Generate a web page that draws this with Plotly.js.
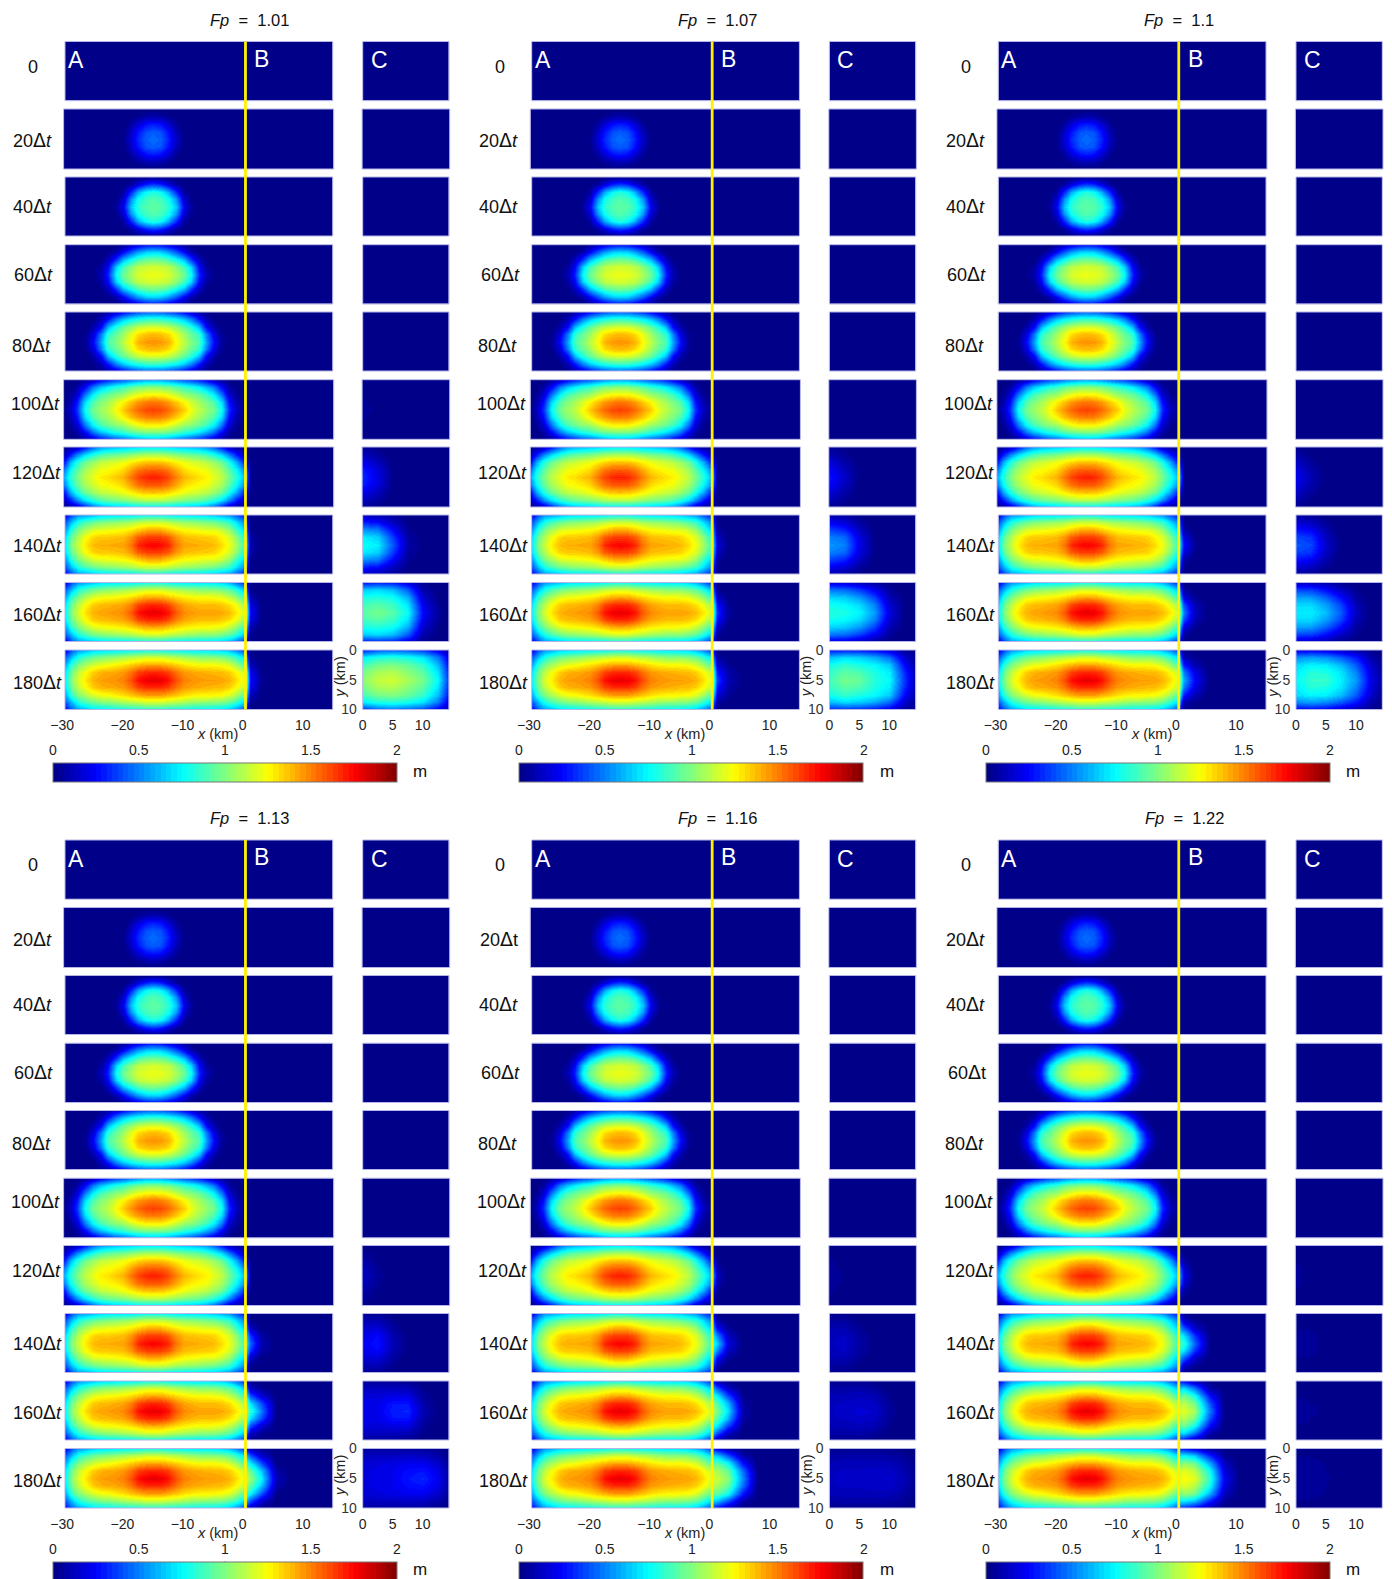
<!DOCTYPE html>
<html><head><meta charset="utf-8">
<script src="https://cdn.plot.ly/plotly-3.0.1.min.js"></script>
<style>html,body{margin:0;padding:0;background:#fff}#g{width:1392px;height:1579px}</style>
</head><body><div id="g"></div>
<script>
// ---------- sample positions (km) ----------
const xA = [-30,-29.05,-27.8,-26.55,-25.3,-24.05,-22.8,-21.55,-20.3,-19.05,-17.8,-16.55,-15.3,-14.05,-12.8,-11.55,-10.3,-9.05,-7.8,-6.55,-5.3,-4.05,-2.8,-1.55,0];
const xB = [0.75,2.5,5,7.5,10,12.5,15];
const xC = [0,2.5,5,7.5,10,12.5,14.5];
const yKm = [0,1.25,2.5,3.75,5,6.25,7.5,8.75,10];
const rowOrder = [4,3,2,1,0,1,2,3,4]; // channel is symmetric about y = 5 km: value rows go centre -> edge

// ---------- surface height in cm ----------
// segment A: rows go centre line -> channel edge; columns go outward from the source at x = -15.3 km.
// Early frames are the same on both sides; late frames list [left side],[right side].
const a0 = [[0],[0],[0],[0],[0]];
const a20 = [[46,43,32,14,2],[43,40,28,11,1],[30,27,17,5],[10,8,4,1],[0]];
const a40 = [[93,91,84,64,22,5],[91,88,78,54,15,3],[82,76,60,32,6,1],[35,30,18,6,1],[2,1]];
const a60 = [[122,120,117,108,96,76,32,10,2],[116,115,112,102,88,66,24,6,1],[98,96,90,78,62,36,12,2],[68,65,56,42,24,9,2],[28,26,20,13,5,1]];
const a80 = [[147,145,140,125,112,100,90,58,25,6],[138,137,132,120,106,95,84,50,18,4],[118,117,113,105,94,82,62,26,8,1],[85,84,80,74,64,50,28,10,2],[45,44,40,34,25,16,8,3]];
const a100 = [[163,161,155,145,135,122,112,105,97,76,34,12,2],[152,150,145,136,126,116,107,100,90,68,27,8,1],[128,127,122,115,106,102,96,88,74,48,16,4],[100,100,98,92,85,80,72,62,48,25,7,1],[60,58,54,48,42,37,30,22,12,5,1]];
const a120 = [[170,168,162,150,140,135,131,128,120,112,98,82,58],[158,157,152,142,132,128,125,122,115,107,93,74,48],[138,137,133,127,122,118,115,112,105,96,80,58,26],[110,110,108,104,100,98,95,90,82,70,52,30,11],[72,72,70,67,65,63,60,55,45,28,12,5,2]];
const a140 = [
 [[176,174,168,152,143,142,141,141,138,130,115,100,72],[176,174,168,152,143,142,141,140,138,132,122,108,85]],
 [[164,163,158,146,138,137,136,136,133,125,110,95,68],[164,163,158,146,138,137,136,135,133,127,118,103,78]],
 [[142,141,136,130,126,124,122,121,118,110,100,82,55],[142,141,136,130,126,124,122,120,120,115,105,88,65]],
 [[115,115,112,108,105,104,102,100,96,90,80,62,40],[115,115,112,108,105,104,102,100,97,92,85,70,50]],
 [[78,78,75,73,72,71,70,68,63,58,55,40,22],[78,78,75,73,72,71,70,68,65,60,55,42,28]]];
const a160 = [
 [[180,178,172,158,148,146,144,143,140,132,118,100,75],[180,178,172,158,148,145,143,143,143,142,138,130,115]],
 [[168,167,162,150,143,141,139,138,135,126,112,96,70],[168,167,162,150,143,140,138,138,138,136,131,122,105]],
 [[144,143,138,133,129,127,125,124,120,112,100,84,58],[144,143,138,133,129,127,125,125,124,122,115,105,85]],
 [[116,116,113,110,107,105,103,101,97,90,80,62,42],[116,116,113,110,107,105,103,103,102,99,93,82,62]],
 [[80,80,76,74,73,72,71,69,64,60,55,40,22],[80,80,76,74,73,72,71,71,70,67,60,48,32]]];
const a180 = [
 [[180,179,173,160,150,147,145,144,140,130,118,100,75],[180,179,173,160,150,147,145,144,144,143,140,132,118]],
 [[168,167,163,153,145,143,141,140,135,125,113,96,70],[168,167,163,153,145,143,141,140,139,138,134,126,112]],
 [[144,144,140,136,131,128,124,122,117,110,100,84,58],[144,144,140,136,131,128,126,126,125,124,118,108,90]],
 [[116,116,113,111,108,105,102,100,96,90,80,62,42],[116,116,113,111,108,105,103,103,102,100,95,85,68]],
 [[80,80,77,76,74,73,71,69,67,60,55,40,22],[80,80,77,76,74,73,71,71,70,68,62,52,35]]];
const zeroRows = [[0],[0],[0],[0],[0]];

// segment B, frames 120..180 dt, per Fp
const b101 = [zeroRows,[[10],[7],[3]],[[25,3],[20,2],[10],[3]],[[28,4],[22,3],[12,1],[4]]];
const b107 = [zeroRows,[[18,2],[13,1],[6],[2]],[[35,5],[28,4],[14,2],[4]],[[38,10,1],[30,8],[18,4],[6,1]]];
const b110 = [[[3]],[[28,4],[20,3],[8,1],[2]],[[50,13],[40,10],[20,4],[6,1]],[[60,25,2],[50,20,1],[30,10],[10,3],[2]]];
const b113 = [[[3]],[[45,10],[35,7],[14,2],[3]],[[85,50,3],[70,40,2],[42,18],[14,4],[2]],[[105,75,12],[95,65,8],[75,42,3],[42,16],[10,2]]];
const b116 = [[[12,1],[8],[3]],[[68,20],[52,13],[27,5],[8,1]],[[100,70,8],[92,60,6],[75,40,3],[42,13],[8,2]],[[115,102,52,1],[108,95,46],[95,78,28],[65,42,8],[22,8,1]]];
const b122 = [[[20,3],[15,2],[6],[2]],[[85,45,3],[72,35,2],[45,15,1],[16,4],[2]],[[120,108,50,2],[112,98,42,1],[100,80,28,1],[70,48,8],[25,10,1]],[[125,120,85,22,1],[120,112,78,18,1],[105,98,60,12],[75,65,32,5],[28,20,6,1]]];

// segment C, frames 100..180 dt, per Fp
const c101 = [[[5,2],[4,1],[2]],[[33,20,3],[30,18,2],[22,12,1],[13,6],[5,2]],[[78,72,42,8,1],[72,66,36,6,1],[55,50,25,4],[30,25,12,2],[12,10,5,1]],[[92,98,92,76,25,5],[88,92,86,70,21,4],[80,82,78,60,15,2],[65,68,62,42,8,1],[28,32,30,18,3]],[[102,113,116,108,98,75,30],[98,108,110,102,93,70,27],[88,98,100,95,85,62,22],[72,80,82,78,70,48,15],[30,42,45,42,35,20,5]]];
const c107 = [[[3,1],[2]],[[28,15,2],[25,12,2],[18,8,1],[10,4],[4,2]],[[55,50,20,2],[50,45,18,2],[38,32,12,1],[22,17,6],[8,6,2]],[[82,80,74,56,18,2],[78,75,68,50,15,2],[68,65,56,38,10,1],[48,45,36,22,5],[18,18,12,6,1]],[[88,98,95,82,75,35,8],[85,93,90,80,72,32,7],[78,85,80,75,65,25,5],[62,68,65,58,45,15,3],[28,30,30,25,18,5,1]]];
const c110 = [[[2,1],[1]],[[22,10,1],[20,8,1],[14,5],[8,2],[3,1]],[[42,38,14,1],[38,34,12,1],[28,24,8],[16,12,4],[6,4,1]],[[72,72,62,42,12,1],[68,68,56,37,10,1],[58,56,44,26,6],[38,36,26,13,3],[14,12,8,3]],[[75,85,85,72,55,20,4],[72,82,80,70,50,18,3],[68,74,72,62,42,14,2],[52,56,52,42,28,8,1],[20,22,20,14,8,2]]];
const c113 = [zeroRows,[[13,5],[12,4],[8,2],[5,1],[2]],[[22,28,10,1],[20,25,9,1],[16,18,6],[10,10,3],[4,4,1]],[[20,22,30,32,10,1],[20,20,28,28,8,1],[18,18,20,20,5],[12,12,12,10,3],[5,5,5,3,1]],[[18,20,22,28,32,22,5],[18,20,22,26,28,20,5],[16,18,20,22,22,15,3],[12,13,13,14,13,8,2],[5,6,6,6,5,3]]];
const c116 = [zeroRows,[[6,3],[5,2],[4,1],[2,1],[1]],[[12,14,7,1],[11,13,6,1],[9,10,4],[6,6,2],[3,2,1]],[[12,14,17,15,5,1],[12,13,15,13,4],[10,11,12,10,3],[7,7,8,5,1],[3,3,3,2]],[[12,14,14,15,16,10,3],[12,13,13,14,14,9,2],[10,11,11,11,11,7,2],[7,8,8,8,7,4,1],[3,3,3,3,3,1]]];
const c122 = [zeroRows,[[4,2],[4,2],[3,1],[2,1],[1]],[[4,4,2],[4,4,2],[3,3,1],[2,2,1],[1,1]],[[4,4,2],[4,3,2],[3,3,1],[2,2],[1,1]],[[5,5,4,1],[5,5,3,1],[4,4,3],[3,3,2],[1,1,1]]];

const framesA = [a0,a20,a40,a60,a80,a100,a120,a140,a160,a180];
const fpLabels = ['1.01','1.07','1.1','1.13','1.16','1.22'];
const framesB = [b101,b107,b110,b113,b116,b122];
const framesC = [c101,c107,c110,c113,c116,c122];
const rowNames = ['0','20','40','60','80','100','120','140','160','180'];
const xTickVals = [-30,-20,-10,0,10];
const xTickText = ['\u221230\u2009\u2009','\u221220\u2009\u2009','\u221210\u2009\u2009','0\u2009\u2009','10\u2009\u2009'];
const cTickVals = [0,5,10];
const yTickVals = [0,5,10];
const barTickVals = [0,0.5,1,1.5,2];
const barTickText = ['0','0.5','1','1.5','2'];
const jetAnchors = [[0,0,0,128],[0.125,0,0,255],[0.375,0,255,255],[0.625,255,255,0],[0.875,255,0,0],[1,128,0,0]];
const colorLevels = 64;

// ---------- layout constants (page pixels) ----------
const W = 1392, H = 1579;
const colOffset = [0,466.7,933.3], blockOffset = [0,798.5];
const rowTop = [41.5,109,177,244.7,312,379.7,447,515,582.5,650];
const rowBot = [100.7,169,236,304,371,439.3,507,574,641.5,709.5];
const wideRow = [false,true,false,false,false,true,true,false,false,false];
const boxAB = [65,332.7], boxABwide = [63.6,333.7], boxC = [362.7,449], boxCwide = [362.1,449.7];
const labelX = [33,32,32,33.5,31,35,36,37,37,37];
const labelY = [67,140.5,205.5,274,344.5,403,472,545,614,682];
const titleX = [250,717,1179,250,717.5,1184];
const barLeft = 52.7, barLen = 344.3, barMax = 2;
const fontFam = '"Liberation Sans", Arial, sans-serif';

const px = v => v / W, py = v => 1 - v / H;
const pad = (r, n) => { const o = r.slice(); while (o.length < n) o.push(0); return o; };
const lerp = (a, b, t) => Math.round(a + (b - a) * t);
function jet(t) {
  for (let i = 1; i < jetAnchors.length; i++) {
    const p = jetAnchors[i-1], q = jetAnchors[i];
    if (t <= q[0]) { const f = (t - p[0]) / (q[0] - p[0]);
      return `rgb(${lerp(p[1],q[1],f)},${lerp(p[2],q[2],f)},${lerp(p[3],q[3],f)})`; }
  }
  return 'rgb(128,0,0)';
}
const jetScale = [];
for (let i = 0; i < colorLevels; i++) {
  const c = jet((i + 0.5) / colorLevels);
  jetScale.push([i / colorLevels, c], [(i + 1) / colorLevels, c]);
}

// turn "outward from the source" rows into rows along x
function alongX(row) {
  const two = Array.isArray(row[0]);
  const L = pad(two ? row[0] : row, 13), R = pad(two ? row[1] : row, 13);
  return L.slice().reverse().concat(R.slice(1));
}
function field(base, extra, nb) {
  return rowOrder.map(k => {
    const left = base ? alongX(base[k]) : [];
    const right = pad((extra && extra[k]) || [0], nb);
    return left.concat(right).map(v => v / 100);
  });
}

const traces = [], shapes = [], annotations = [];
const layout = {
  width: W, height: H, margin: {l:0,r:0,t:0,b:0,pad:0,autoexpand:false},
  paper_bgcolor:'#fff', plot_bgcolor:'#fff', showlegend:false,
  font:{family:fontFam,color:'#111',size:14}
};
let xN = 0, yN = 0;
const id = (a, n) => n === 1 ? a : a + n;
const lay = (a, n) => n === 1 ? a + 'axis' : a + 'axis' + n;
function newX(dom, range, vals, text, anchorRef, visible) {
  xN++;
  layout[lay('x', xN)] = {domain:[px(dom[0]), px(dom[1])], range, visible, showgrid:false, zeroline:false,
    fixedrange:true, anchor:anchorRef, tickmode:'array', tickvals:vals, ticktext:text, ticks:'outside', ticklen:3,
    tickcolor:'rgba(0,0,0,0)', tickfont:{size:14,color:'#222',family:fontFam}, showline:false};
  return xN;
}

for (let g = 0; g < 6; g++) {
  const ox = colOffset[g % 3], oy = blockOffset[Math.floor(g / 3)];
  const shift = d => d.map(v => v + ox);
  const yStart = yN + 1, botY = id('y', yStart + 9);
  const xAB = newX(shift(boxAB), [-30,14.5], xTickVals, xTickText, botY, true);
  const xABw = newX(shift(boxABwide), [-30,14.5], [], [], botY, false);
  const xCn = newX(shift(boxC), [0,14.4], cTickVals, cTickVals.map(String), botY, true);
  const xCw = newX(shift(boxCwide), [0,14.4], [], [], botY, false);

  for (let r = 0; r < 10; r++) {
    yN++;
    const isBot = r === 9;
    layout[lay('y', yN)] = {domain:[py(rowBot[r] + oy), py(rowTop[r] + oy)], range:[10,0], visible:isBot, showgrid:false, zeroline:false,
      fixedrange:true, anchor:id('x', xCn), tickmode:'array', tickvals:yTickVals, ticktext:yTickVals.map(String), ticks:'outside', ticklen:2,
      tickcolor:'rgba(0,0,0,0)', tickfont:{size:14,color:'#333',family:fontFam}, showline:false};
    const xa = wideRow[r] ? xABw : xAB, xc = wideRow[r] ? xCw : xCn;
    const bFrame = r >= 6 ? framesB[g][r - 6] : null;
    const cFrame = r >= 5 ? framesC[g][r - 5] : null;
    const tr = {type:'heatmap', zsmooth:'best', zmin:0, zmax:2, colorscale:jetScale, hoverinfo:'skip'};
    traces.push(Object.assign({}, tr, {x:xA.concat(xB), y:yKm, z:field(framesA[r], bFrame, xB.length),
      xaxis:id('x',xa), yaxis:id('y',yN), showscale:r === 0,
      colorbar: r === 0 ? {orientation:'h', lenmode:'pixels', len:barLen, thicknessmode:'pixels', thickness:19,
        x:px(barLeft + ox), xanchor:'left', y:py(763 + oy), yanchor:'top', xpad:0, ypad:0,
        showticklabels:false, ticks:'', outlinecolor:'#777', outlinewidth:1, borderwidth:0} : undefined}));
    traces.push(Object.assign({}, tr, {x:xC, y:yKm, z:field(null, cFrame, xC.length),
      xaxis:id('x',xc), yaxis:id('y',yN), showscale:false}));
    // faint panel frames
    [xa, xc].forEach(ax => shapes.push({type:'rect', xref:id('x',ax)+' domain', yref:id('y',yN)+' domain',
      x0:0, x1:1, y0:0, y1:1, line:{color:'#b4b4e6', width:1}}));
    // row label
    const upright = (g === 4 && r === 1) || (g === 5 && r === 3);
    const delta = '<span style="font-family:DejaVu Sans;font-size:19px">\u0394</span>';
    const txt = r === 0 ? '0' : rowNames[r] + delta + (upright ? 't' : '<i>t</i>');
    annotations.push({xref:'paper', yref:'paper', x:px(labelX[r] + ox), y:py(labelY[r] + oy - (oy ? 0.5 : 0)),
      xanchor:'center', yanchor:'middle', showarrow:false, text:txt, font:{size:18,color:'#111',family:fontFam}});
  }
  // dividing line between segments A and B
  shapes.push({type:'line', xref:id('x',xAB), yref:'paper', x0:0, x1:0,
    y0:py(rowTop[0] + oy), y1:py(rowBot[9] + oy), line:{color:'#fff200', width:2.8}});
  // title, letters, axis captions, unit
  const note = (x, y, text, size, color, extra) => annotations.push(Object.assign({xref:'paper', yref:'paper', x:px(x), y:py(y),
    xanchor:'center', yanchor:'middle', showarrow:false, text, font:{size, color, family:fontFam}}, extra || {}));
  note(titleX[g], 20 + (oy ? 798 : 0), '<i>Fp</i>\u00a0 =\u00a0 ' + fpLabels[g], 16.5, '#111');
  note(76 + ox, 60 + oy, 'A', 23, '#fff');
  note(261.7 + ox, 59 + oy - (oy ? 0.7 : 0), 'B', 23, '#fff');
  note(379 + ox, 60 + oy, 'C', 23, '#fff');
  note(218 + ox, 734 + oy, '<i>x</i> (km)', 14.5, '#222');
  note(339.5 + ox, 677 + oy, '<i>y</i> (km)', 14.5, '#222', {textangle:-90});
  note(420 + ox, 771 + oy, 'm', 17, '#111');
  // colour-bar tick labels above the bar, tick marks on its top edge
  barTickVals.forEach((v, i) => {
    const bx = barLeft + ox + barLen * v / barMax;
    note(bx, 750 + oy, barTickText[i], 14, '#222');
    if (i > 0 && i < barTickVals.length - 1) shapes.push({type:'line', xref:'paper', yref:'paper', x0:px(bx), x1:px(bx),
      y0:py(763 + oy), y1:py(766 + oy), line:{color:'#333', width:1}});
  });
}
layout.shapes = shapes;
layout.annotations = annotations;
Plotly.newPlot('g', traces, layout, {displayModeBar:false, staticPlot:true, responsive:false});
</script></body></html>
